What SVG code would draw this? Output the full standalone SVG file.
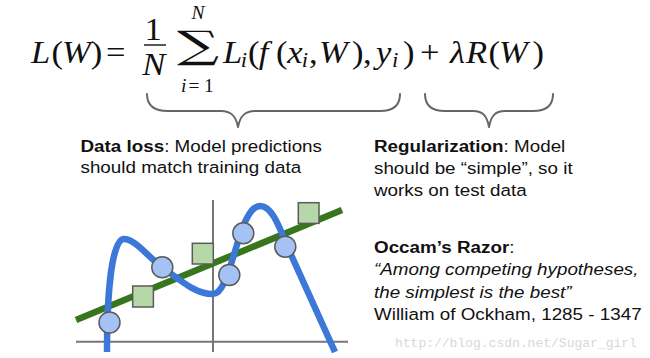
<svg xmlns="http://www.w3.org/2000/svg" width="650" height="358" viewBox="0 0 650 358">
<style>
.m{font-family:"Liberation Serif","Times New Roman",serif;font-size:32px;fill:#111}
.mi{font-style:italic}
.s{font-size:21px}
.ss{font-size:18px}
.t{font-family:"Liberation Sans",Arial,sans-serif;font-size:16.8px;fill:#111}
.b{font-weight:bold}
.it{font-style:italic}
.brace{fill:none;stroke:#666;stroke-width:2;stroke-linecap:round;stroke-linejoin:round}
.axis{stroke:#777;stroke-width:2;fill:none}
.pt{fill:#a4c2f4;stroke:#5b5b5b;stroke-width:1.5}
.sq{fill:#b6d7a8;stroke:#5b5b5b;stroke-width:1.5}
.wm{font-family:"Liberation Mono","Courier New",monospace;font-size:13px;fill:#d8d8d8}
</style>
<rect width="650" height="358" fill="#fff"/>
<g id="formula">
<g transform="scale(1.08,1)">
<text class="m"><tspan class="mi" x="28.7" y="63">L</tspan><tspan x="47.6" y="63">(</tspan><tspan class="mi" x="57.5" y="63">W</tspan><tspan x="84" y="63">)</tspan><tspan x="98.1" y="63">=</tspan></text>
<text class="m" x="141.7" y="40" text-anchor="middle">1</text>
<line x1="133.3" y1="45" x2="153.7" y2="45" stroke="#111" stroke-width="1.4"/>
<text class="m mi" x="142.5" y="75" text-anchor="middle">N</text>
<text class="m mi ss" x="183.3" y="19" text-anchor="middle">N</text>
<text class="m ss"><tspan class="mi" x="167.6" y="92">i</tspan><tspan x="174.5" y="92">=</tspan><tspan x="188.9" y="92">1</tspan></text>
<text class="m"><tspan class="mi" x="206.5" y="63">L</tspan><tspan class="mi s" x="223" y="67">i</tspan><tspan x="229.6" y="63">(</tspan><tspan class="mi" x="239.5" y="63">f</tspan><tspan x="255.5" y="63">(</tspan><tspan class="mi" x="266" y="63">x</tspan><tspan class="mi s" x="279.3" y="67">i</tspan><tspan x="286.1" y="63">,</tspan><tspan class="mi" x="295.4" y="63">W</tspan><tspan x="325.9" y="63">)</tspan><tspan x="336.1" y="63">,</tspan><tspan class="mi" x="348.1" y="63">y</tspan><tspan class="mi s" x="363" y="67">i</tspan><tspan x="373.1" y="63">)</tspan><tspan x="388.9" y="63">+</tspan><tspan class="mi" x="416.7" y="63">λ</tspan><tspan class="mi" x="431.5" y="63">R</tspan><tspan x="452.3" y="63">(</tspan><tspan class="mi" x="462" y="63">W</tspan><tspan x="493" y="63">)</tspan></text>
</g>
<text transform="translate(198,58) scale(1.55,1)" text-anchor="middle" style="font-family:'DejaVu Serif',serif;font-size:38px;fill:#111">∑</text>
</g>
<g id="braces">
<path class="brace" d="M147,94 C147,105 154,111 168,111 L221,111 C231,111 236,116 238,127 C240,116 245,111 255,111 L380,111 C393,111 400,105 400,94"/>
<path class="brace" d="M425,94 C425,105 432,111 445,111 L473,111 C483,111 487,116 489,127 C491,116 495,111 505,111 L533,111 C546,111 553,105 553,94"/>
</g>
<g id="data-loss" transform="translate(80.5,0) scale(1.12,1)">
<text class="t" y="152"><tspan x="0" class="b">Data loss</tspan>: Model predictions</text>
<text class="t" x="0" y="173.5">should match training data</text>
</g>
<g id="regularization" transform="translate(374,0) scale(1.12,1)">
<text class="t" y="152.3"><tspan x="0" class="b">Regularization</tspan>: Model</text>
<text class="t" x="0" y="174.3">should be “simple”, so it</text>
<text class="t" x="0" y="196">works on test data</text>
</g>
<g id="occam" transform="translate(374,0) scale(1.12,1)">
<text class="t" y="252.7"><tspan x="0" class="b">Occam’s Razor</tspan>:</text>
<text class="t it" x="0" y="275.3">“Among competing hypotheses,</text>
<text class="t it" x="0" y="298">the simplest is the best”</text>
<text class="t" x="0" y="320.3">William of Ockham, 1285 - 1347</text>
</g>
<g id="chart">
<line class="axis" x1="76" y1="341.7" x2="348" y2="341.7"/>
<line class="axis" x1="213" y1="200" x2="213" y2="352"/>
<line x1="76" y1="320" x2="342" y2="210" stroke="#38761d" stroke-width="6.5"/>
<path d="M107,352 C107,300 111,239 124,239 C135,239 148,257 162,267 C180,280 195,294 213,294 C232,294 238,206 260,206 C272,206 279,226 288,248 L335,352" fill="none" stroke="#3c78d8" stroke-width="6.5"/>
<rect class="sq" x="132.7" y="286" width="20.7" height="21"/>
<rect class="sq" x="192.3" y="243.3" width="21" height="20.7"/>
<rect class="sq" x="298.3" y="202.7" width="20.7" height="20.7"/>
<circle class="pt" cx="109.5" cy="322.5" r="10.5"/>
<circle class="pt" cx="162.3" cy="267.3" r="10.5"/>
<circle class="pt" cx="229.3" cy="275" r="10.5"/>
<circle class="pt" cx="243.3" cy="233.3" r="10.5"/>
<circle class="pt" cx="285.3" cy="246.7" r="10.5"/>
</g>
<text class="wm" x="395" y="347">http://blog.csdn.net/Sugar_girl</text>
</svg>
